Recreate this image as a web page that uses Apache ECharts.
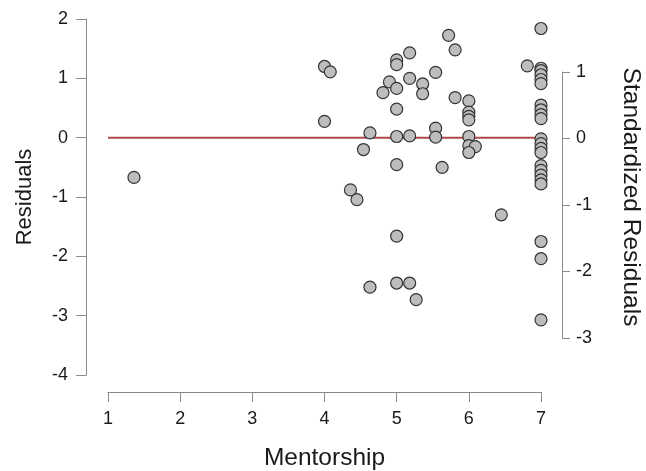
<!DOCTYPE html>
<html>
<head>
<meta charset="utf-8">
<script src="https://cdn.jsdelivr.net/npm/echarts@6/dist/echarts.min.js"></script>
<style>
  html, body { margin: 0; padding: 0; background: #ffffff; }
  #chart { width: 646px; height: 471px; }
</style>
</head>
<body>
<div id="chart"></div>
<script>
// Mentorship scores and the model residuals for each respondent
const mentorship = [
  1.36, 4.0, 4.08, 4.0, 4.36, 4.45, 4.54, 4.63, 4.63, 4.81,
  4.90, 5.0, 5.0, 5.0, 5.0, 5.0, 5.0, 5.0, 5.0, 5.18,
  5.18, 5.18, 5.18, 5.27, 5.36, 5.36, 5.54, 5.54, 5.54, 5.63,
  5.72, 5.81, 5.81, 6.0, 6.0, 6.0, 6.0, 6.0, 6.0, 6.09,
  6.0, 6.45, 6.81, 7.0, 7.0, 7.0, 7.0, 7.0, 7.0, 7.0,
  7.0, 7.0, 7.0, 7.0, 7.0, 7.0, 7.0, 7.0, 7.0, 7.0,
  7.0, 7.0, 7.0, 7.0, 7.0
];
const residuals = [
  -0.67, 1.20, 1.11, 0.275, -0.88, -1.045, -0.20, 0.08, -2.52, 0.76,
  0.94, 1.31, 1.23, 0.83, 0.48, 0.02, -0.455, -1.66, -2.45, 1.43,
  1.00, 0.03, -2.45, -2.73, 0.905, 0.74, 1.10, 0.16, 0.01, -0.50,
  1.725, 1.48, 0.675, 0.62, 0.43, 0.36, 0.30, 0.02, -0.135, -0.15,
  -0.25, -1.30, 1.21, 1.84, 1.17, 1.13, 1.06, 0.98, 0.91, 0.55,
  0.47, 0.39, 0.32, -0.02, -0.10, -0.18, -0.25, -0.47, -0.55, -0.63,
  -0.71, -0.78, -1.75, -2.04, -3.07
];
// Reference line at zero residual
const zeroLineX = [1, 7];
const zeroLineY = [0, 0];

// Tick values
const xTicks = [1, 2, 3, 4, 5, 6, 7];
const residualTicks = [-4, -3, -2, -1, 0, 1, 2];
const standardizedTicks = [-3, -2, -1, 0, 1];

const FONT = 'Liberation Sans, Arial, sans-serif';
const AXIS_GRAY = '#8a8a8a';
const TEXT = '#1a1a1a';

const points = mentorship.map((m, i) => [m, residuals[i]]);
const zeroLine = zeroLineX.map((x, i) => [x, zeroLineY[i]]);

const chart = echarts.init(document.getElementById('chart'), null, { renderer: 'canvas' });

const tickStyle = { show: true, length: 10, inside: false, lineStyle: { color: AXIS_GRAY, width: 1 } };
const lineStyle = { show: true, onZero: false, lineStyle: { color: AXIS_GRAY, width: 1 } };

chart.setOption({
  animation: false,
  backgroundColor: '#ffffff',
  grid: [
    { left: 108, right: 105, top: 19, bottom: 96, containLabel: false, outerBoundsMode: 'none' },
    { left: 108, right: 105, top: 72, bottom: 133, containLabel: false, outerBoundsMode: 'none' }
  ],
  xAxis: [
    {
      gridIndex: 0, type: 'value',
      min: xTicks[0], max: xTicks[xTicks.length - 1], interval: 1,
      offset: 17,
      name: 'Mentorship', nameLocation: 'middle', nameGap: 54,
      nameTextStyle: { color: TEXT, fontSize: 24.5, fontFamily: FONT },
      axisLine: lineStyle, axisTick: tickStyle,
      axisLabel: { color: TEXT, fontSize: 18, fontFamily: FONT, margin: 18 },
      splitLine: { show: false }
    },
    {
      gridIndex: 1, type: 'value', min: 1, max: 7, show: false
    }
  ],
  yAxis: [
    {
      gridIndex: 0, type: 'value', position: 'left',
      min: residualTicks[0], max: residualTicks[residualTicks.length - 1], interval: 1,
      offset: 22,
      name: 'Residuals', nameLocation: 'middle', nameGap: 50,
      nameTextStyle: { color: TEXT, fontSize: 22, fontFamily: FONT },
      axisLine: lineStyle, axisTick: tickStyle,
      axisLabel: { color: TEXT, fontSize: 18, fontFamily: FONT, margin: 18 },
      splitLine: { show: false }
    },
    {
      gridIndex: 1, type: 'value', position: 'right',
      min: standardizedTicks[0], max: standardizedTicks[standardizedTicks.length - 1], interval: 1,
      offset: 21,
      axisLine: lineStyle,
      axisTick: { show: true, length: 8, inside: false, lineStyle: { color: AXIS_GRAY, width: 1 } },
      axisLabel: { color: TEXT, fontSize: 18, fontFamily: FONT, margin: 14 },
      splitLine: { show: false }
    },
    {
      gridIndex: 0, type: 'value', position: 'right',
      min: residualTicks[0], max: residualTicks[residualTicks.length - 1],
      offset: 21,
      name: 'Standardized Residuals', nameLocation: 'middle', nameGap: 56, nameRotate: -90,
      nameTextStyle: { color: TEXT, fontSize: 24.5, fontFamily: FONT },
      axisLine: { show: false }, axisTick: { show: false },
      axisLabel: { show: false }, splitLine: { show: false }
    }
  ],
  series: [
    {
      type: 'line',
      xAxisIndex: 0, yAxisIndex: 0,
      data: zeroLine,
      symbol: 'none',
      lineStyle: { color: '#b04a4a', width: 2 },
      z: 1, silent: true
    },
    {
      type: 'scatter',
      xAxisIndex: 0, yAxisIndex: 0,
      data: points,
      symbol: 'circle',
      symbolSize: 12,
      itemStyle: { color: '#bdbdbd', borderColor: '#333333', borderWidth: 1.2, opacity: 1 },
      z: 2
    }
  ]
});
</script>
</body>
</html>
